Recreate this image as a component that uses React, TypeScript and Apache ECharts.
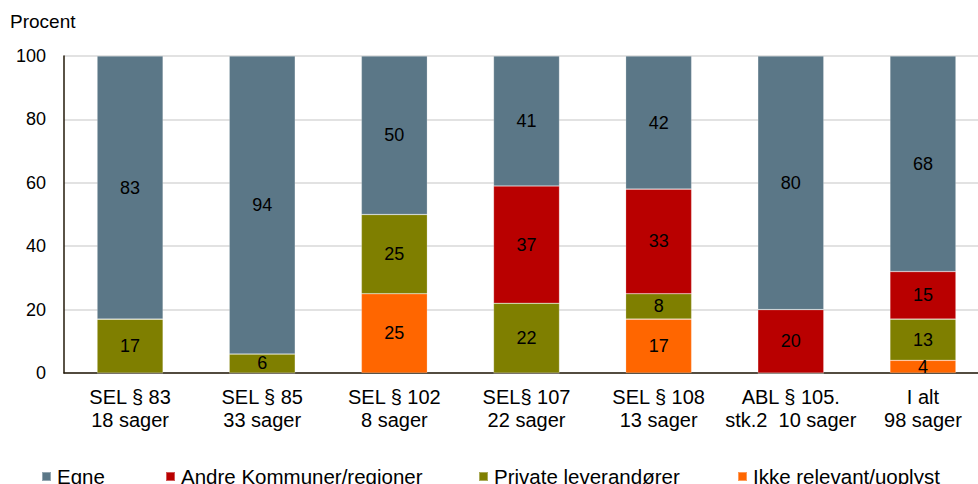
import React, { useEffect, useRef } from "react";
import * as echarts from "echarts";

const categories = [
  "SEL § 83\n18 sager",
  "SEL § 85\n33 sager",
  "SEL § 102\n8 sager",
  "SEL§ 107\n22 sager",
  "SEL § 108\n13 sager",
  "ABL § 105.\nstk.2  10 sager",
  "I alt\n98 sager",
];
const ikkeRelevant = [0, 0, 25, 0, 17, 0, 4];
const private_ = [17, 6, 25, 22, 8, 0, 13];
const andre = [0, 0, 0, 37, 33, 20, 15];
const egne = [83, 94, 50, 41, 42, 80, 68];
const yTicks = [0, 20, 40, 60, 80, 100];

const FONT = "Arial, 'Liberation Sans', sans-serif";

export default function App() {
  const ref = useRef<HTMLDivElement>(null);
  useEffect(() => {
    if (!ref.current) return;
    const chart = echarts.init(ref.current, null, { renderer: "svg" });
    const label = {
      show: true,
      position: "inside",
      color: "#000",
      fontSize: 18,
      fontFamily: FONT,
      formatter: (p: any) => (p.value ? String(p.value) : ""),
    };
    const mk = (name: string, data: number[], color: string) => ({
      name,
      type: "bar",
      stack: "s",
      data,
      barWidth: 66,
      itemStyle: { color, borderColor: "rgba(255,255,255,0.35)", borderWidth: 0.6 },
      label,
    });
    const legendCommon = {
      top: 466,
      padding: 0,
      itemWidth: 9,
      itemHeight: 9,
      icon: "rect",
      itemGap: 0,
      textStyle: {
        fontSize: 20.5,
        lineHeight: 21,
        fontFamily: FONT,
        color: "#000",
        padding: [0, 0, 0, 1],
      },
    };
    chart.setOption({
      animation: false,
      textStyle: { fontFamily: FONT },
      grid: { left: 64, top: 56, width: 925, height: 317, containLabel: false },
      graphic: [
        {
          type: "text",
          left: 10,
          top: 12,
          style: { text: "Procent", fontSize: 19, fontFamily: FONT, fill: "#000" },
        },
      ],
      legend: [
        { ...legendCommon, left: 41, data: ["Egne"] },
        { ...legendCommon, left: 165, data: ["Andre Kommuner/regioner"] },
        { ...legendCommon, left: 478, data: ["Private leverandører"] },
        { ...legendCommon, left: 737, data: ["Ikke relevant/uoplyst"] },
      ],
      xAxis: {
        type: "category",
        data: categories,
        axisLine: { lineStyle: { color: "#231a0a", width: 1.5 } },
        axisTick: { show: false },
        axisLabel: {
          color: "#000",
          fontSize: 20,
          fontFamily: FONT,
          lineHeight: 23,
          margin: 12,
          interval: 0,
        },
      },
      yAxis: {
        type: "value",
        min: 0,
        max: 100,
        interval: 20,
        axisLine: { show: true, lineStyle: { color: "#231a0a", width: 1.5 } },
        axisTick: { show: false },
        splitLine: { lineStyle: { color: "#d9d9d9", width: 1.5 } },
        axisLabel: {
          color: "#000",
          fontSize: 18,
          fontFamily: FONT,
          margin: 18,
          formatter: (v: number) => (yTicks.includes(v) ? String(v) : ""),
        },
      },
      series: [
        mk("Ikke relevant/uoplyst", ikkeRelevant, "#ff6600"),
        mk("Private leverandører", private_, "#7f7f00"),
        mk("Andre Kommuner/regioner", andre, "#b90000"),
        mk("Egne", egne, "#5b7787"),
      ],
    });
    return () => chart.dispose();
  }, []);
  return (
    <div style={{ width: 978, height: 484, position: "absolute", left: 0, top: 0, overflow: "hidden" }}>
      <div ref={ref} style={{ width: 1000, height: 484 }} />
    </div>
  );
}
